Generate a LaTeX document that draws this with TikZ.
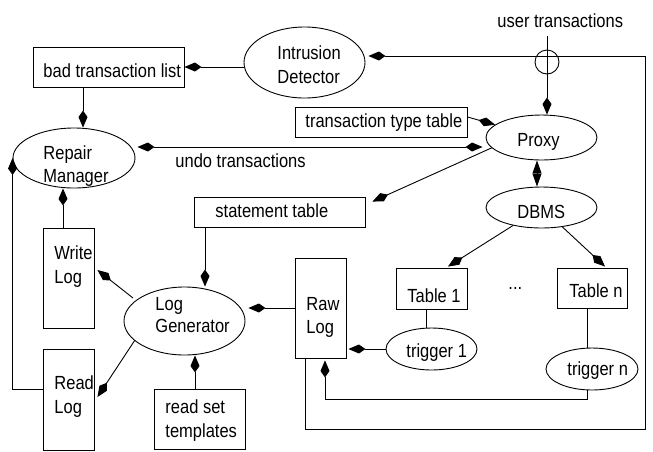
\documentclass[tikz,border=0pt]{standalone}
\usepackage{fontspec}
\setmainfont{Liberation Sans}[FakeStretch=0.868]
\usetikzlibrary{arrows.meta,shapes.geometric,calc}
\newcommand\twoln[3][23.5pt]{\vtop{\baselineskip=#1\hbox{#2}\hbox{#3}}}
\begin{document}
\begin{tikzpicture}[x=1pt,y=-1pt,
  line width=0.9pt,
  arr/.style={-{Kite[length=17pt,width=9pt,inset=6.5pt]}},
  dbl/.style={{Kite[length=17pt,width=9pt,inset=6.5pt]}-{Kite[length=17pt,width=9pt,inset=6.5pt]}},
  oval/.style={draw,ellipse,inner sep=0pt},
  box/.style={draw,rectangle,inner sep=0pt},
  txt/.style={inner sep=0pt,anchor=base west,font=\fontsize{19}{23.5}\selectfont}]
\useasboundingbox (0,0) rectangle (653,451);

% shapes
\node[box,minimum width=151pt,minimum height=40pt] (btl) at (108.5,67) {};
\node[oval,minimum width=121pt,minimum height=71pt] (ID) at (304.5,62.5) {};
\node[box,minimum width=172pt,minimum height=30pt] (ttt) at (381,122) {};
\node[oval,minimum width=111pt,minimum height=45pt] (Proxy) at (541.5,137.5) {};
\node[oval,minimum width=111pt,minimum height=41pt] (DBMS) at (541.5,207.5) {};
\node[box,minimum width=171pt,minimum height=30pt] (stmt) at (279.5,212) {};
\node[oval,minimum width=122pt,minimum height=60pt] (RM) at (74,158) {};
\node[box,minimum width=51pt,minimum height=100pt] (wl) at (68.5,278) {};
\node[box,minimum width=51pt,minimum height=101pt] (rl) at (68.5,399.5) {};
\node[oval,minimum width=121pt,minimum height=68pt] (LG) at (184.5,321) {};
\node[box,minimum width=91pt,minimum height=60pt] (rst) at (199.5,419) {};
\node[box,minimum width=51pt,minimum height=100pt] (raw) at (320.5,308) {};
\node[box,minimum width=71pt,minimum height=41pt] (t1) at (431.5,288.5) {};
\node[box,minimum width=70pt,minimum height=40pt] (tn) at (592,288) {};
\node[oval,minimum width=91pt,minimum height=42pt] (tr1) at (431.5,349) {};
\node[oval,minimum width=92pt,minimum height=42pt] (trn) at (592,369) {};
\node[draw,circle,minimum size=24pt,inner sep=0pt] (xc) at (547,62) {};
\coordinate (utstart) at (547,36);

% texts
\node[txt] (tbtl) at (43,77) {bad transaction list};
\node[txt] (tID) at (277,59) {\twoln[24pt]{Intrusion}{Detector}};
\node[txt] (tut) at (497,27) {user transactions};
\node[txt] (tttt) at (305,127.5) {transaction type table};
\node[txt] (tProxy) at (517,146.5) {Proxy};
\node[txt] (tDBMS) at (517,218) {DBMS};
\node[txt] (tRM) at (43,159) {\twoln[23pt]{Repair}{Manager}};
\node[txt] (tundo) at (175,167) {undo transactions};
\node[txt] (tstmt) at (215,217) {statement table};
\node[txt] (tLG) at (155,310.5) {\twoln[22pt]{Log}{Generator}};
\node[txt] (twl) at (54,259) {\twoln[24pt]{Write}{Log}};
\node[txt] (trl) at (54,389) {\twoln[24pt]{Read}{Log}};
\node[txt] (trst) at (165,413) {\twoln[24.5pt]{read set}{templates}};
\node[txt] (traw) at (306,310) {\twoln[23pt]{Raw}{Log}};
\node[txt] (tt1) at (407,302) {Table 1};
\node[txt] (ttn) at (569,297) {Table n};
\node[txt] (tdots) at (508,289) {...};
\node[txt] (ttr1) at (406,357) {trigger 1};
\node[txt] (ttrn) at (567,375) {trigger n};

% connectors
\draw[arr] (ID.west |- btl.east) -- (btl.east);
\draw[arr] (83,0 |- btl.south) -- (83,0 |- RM.north);
\draw[dbl,shorten <=2pt,shorten >=3pt] (RM.east |- 0,147) -- (Proxy.west |- 0,147);
\draw[arr] (ttt.east |- 0,117) -- (Proxy);
\draw[arr] (utstart) -- (utstart |- Proxy.north);
\draw[arr,shorten >=3pt] ($(raw.south west)+(11,0)$) |- (645,429) |- (ID.east |- 0,56);
\draw[{Triangle[length=13pt,width=9pt]}-{Triangle[length=13pt,width=9pt]}] (537,0 |- Proxy.south) -- (537,0 |- DBMS.north);
\draw[arr] ($(Proxy.center)+(-49.5,10.2)$) -- ($(stmt.north east)+(7,5)$);
\draw[arr] (DBMS) -- ($(t1.north)+(16.5,-1)$);
\draw[arr] (DBMS) -- ($(tn.north)+(13,-1)$);
\draw (426,0 |- t1.south) -- (426,0 |- tr1.north);
\draw (587,0 |- tn.south) -- (587,0 |- trn.north);
\draw[arr,shorten >=2pt] (tr1.west) -- (tr1.west -| raw.east);
\draw[arr,shorten >=2pt] (587,0 |- trn.south) |- (325,399) -- (325,0 |- raw.south);
\draw[arr] (205,0 |- stmt.south) -- (205,0 |- LG.north);
\draw[arr,shorten >=3pt] (raw.west) -- (LG.east |- raw.west);
\draw[arr] ($(LG.center)+(-51.5,-23)$) -- ($(wl.east)+(3,-8)$);
\draw[arr] ($(LG.center)+(-49.5,19)$) -- ($(rl.east)+(3,-2.5)$);
\draw[arr] ($(rl.west)+(0,-10.5)$) -| (RM.west);
\draw[arr] (63,0 |- wl.north) -- (63,0 |- RM.south);
\draw[arr] (195,0 |- rst.north) -- (195,0 |- LG.south);
\end{tikzpicture}
\end{document}
